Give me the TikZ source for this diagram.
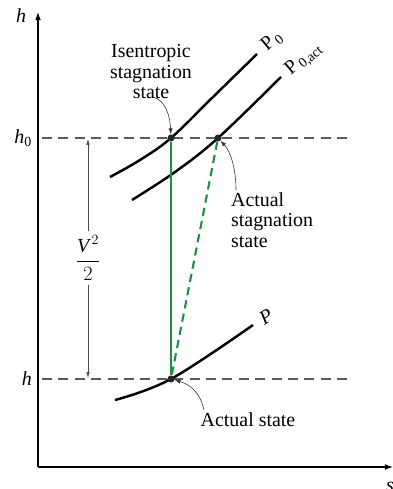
\documentclass[tikz,border=0pt]{standalone}
\usepackage{fontspec}
\setmainfont{Liberation Serif}
\usepackage{xcolor}
\usetikzlibrary{arrows.meta,positioning}
\definecolor{linegreen}{RGB}{20,150,60}
\definecolor{dashgray}{RGB}{90,90,90}

\begin{document}
\begin{tikzpicture}[x=0.03cm,y=-0.03cm,>=Latex,font=\fontsize{17}{17.5}\selectfont,
  dot/.style={circle,fill=black!85,inner sep=0pt,minimum size=6pt},
  curve/.style={line width=2.1pt},
  level/.style={dashgray,line width=1pt,dash pattern=on 8.5pt off 5.5pt},
  note/.style={-{Latex[length=5pt,width=3.5pt]},line width=0.5pt,black!80},
  dim/.style={-{Latex[length=5pt,width=3pt]},line width=0.5pt,black!70}]
\useasboundingbox (0,0) rectangle (392,489);
% axes
\coordinate (orig) at (38,467);
\coordinate (htop) at (38,12);
\coordinate (send) at (393,467);
\draw[-{Latex[length=7pt,width=5pt]},line width=0.9pt] (orig) -- (htop);
\draw[-{Latex[length=7pt,width=5pt]},line width=0.9pt] (orig) -- (send);
\node (hax) at (21,16) {\textit{h}};
\node (sax) at (390,487) {\textit{s}};
% enthalpy levels
\node[anchor=east] (h0lbl) at (36,138) {\textit{h}\textsubscript{0}};
\node[anchor=east] (hlbl) at (36,379) {\textit{h}};
\coordinate (h0a) at (42,138); \coordinate (h0b) at (352,138);
\coordinate (ha) at (42,379); \coordinate (hb) at (352,379);
\draw[level] (h0a) -- (h0b);
\draw[level] (ha) -- (hb);
% isobars
\draw[curve] plot[smooth,tension=0.6] coordinates {(110,177) (140,160) (171,138) (213,97) (257,54)};
\draw[curve] plot[smooth,tension=0.6] coordinates {(132,200) (175,172) (218,138) (281,77)};
\draw[curve] plot[smooth,tension=0.6] coordinates {(115,400) (171,379) (253,325)};
\node[rotate=40] (p0lbl) at (272,41) {P\textsubscript{\,0}};
\node[rotate=40] (p0actlbl) at (304,59) {P\textsubscript{\,0,act}};
\node[rotate=32] (plbl) at (266,317) {\textit{P}};
% states
\node[dot] (isen) at (171,138) {};
\node[dot] (actstag) at (218,138) {};
\node[dot] (act) at (171,379) {};
\draw[linegreen,line width=1.8pt] (isen) -- (act);
\draw[linegreen,line width=1.8pt,dash pattern=on 7pt off 4.5pt] (actstag) -- (act);
% V^2/2
\coordinate (dimtop) at (88,139);
\coordinate (dimbot) at (88,378);
\node[inner sep=4pt] (vfrac) at (88,258) {$\displaystyle\frac{\textit{V}^{\,2}}{2}$};
\draw[dim] (vfrac) -- (dimtop);
\draw[dim] (vfrac) -- (dimbot);
% labels
\node[align=center] (isenlbl) at (151,72) {Isentropic\\stagnation\\state};
\node[align=left,anchor=west] (actstaglbl) at (227,220) {Actual\\stagnation\\state};
\node (actlbl) at (248,420) {Actual state};
\coordinate (isentail) at (153,97);
\coordinate (actstagtail) at (236,190);
\coordinate (acttail) at (204,410);
\draw[note] (isentail) .. controls (165,100) and (170,115) .. (isen);
\draw[note] (actstagtail) .. controls (236,170) and (231,152) .. (actstag);
\draw[note] (acttail) .. controls (201,395) and (192,385) .. (act);
\end{tikzpicture}
\end{document}
